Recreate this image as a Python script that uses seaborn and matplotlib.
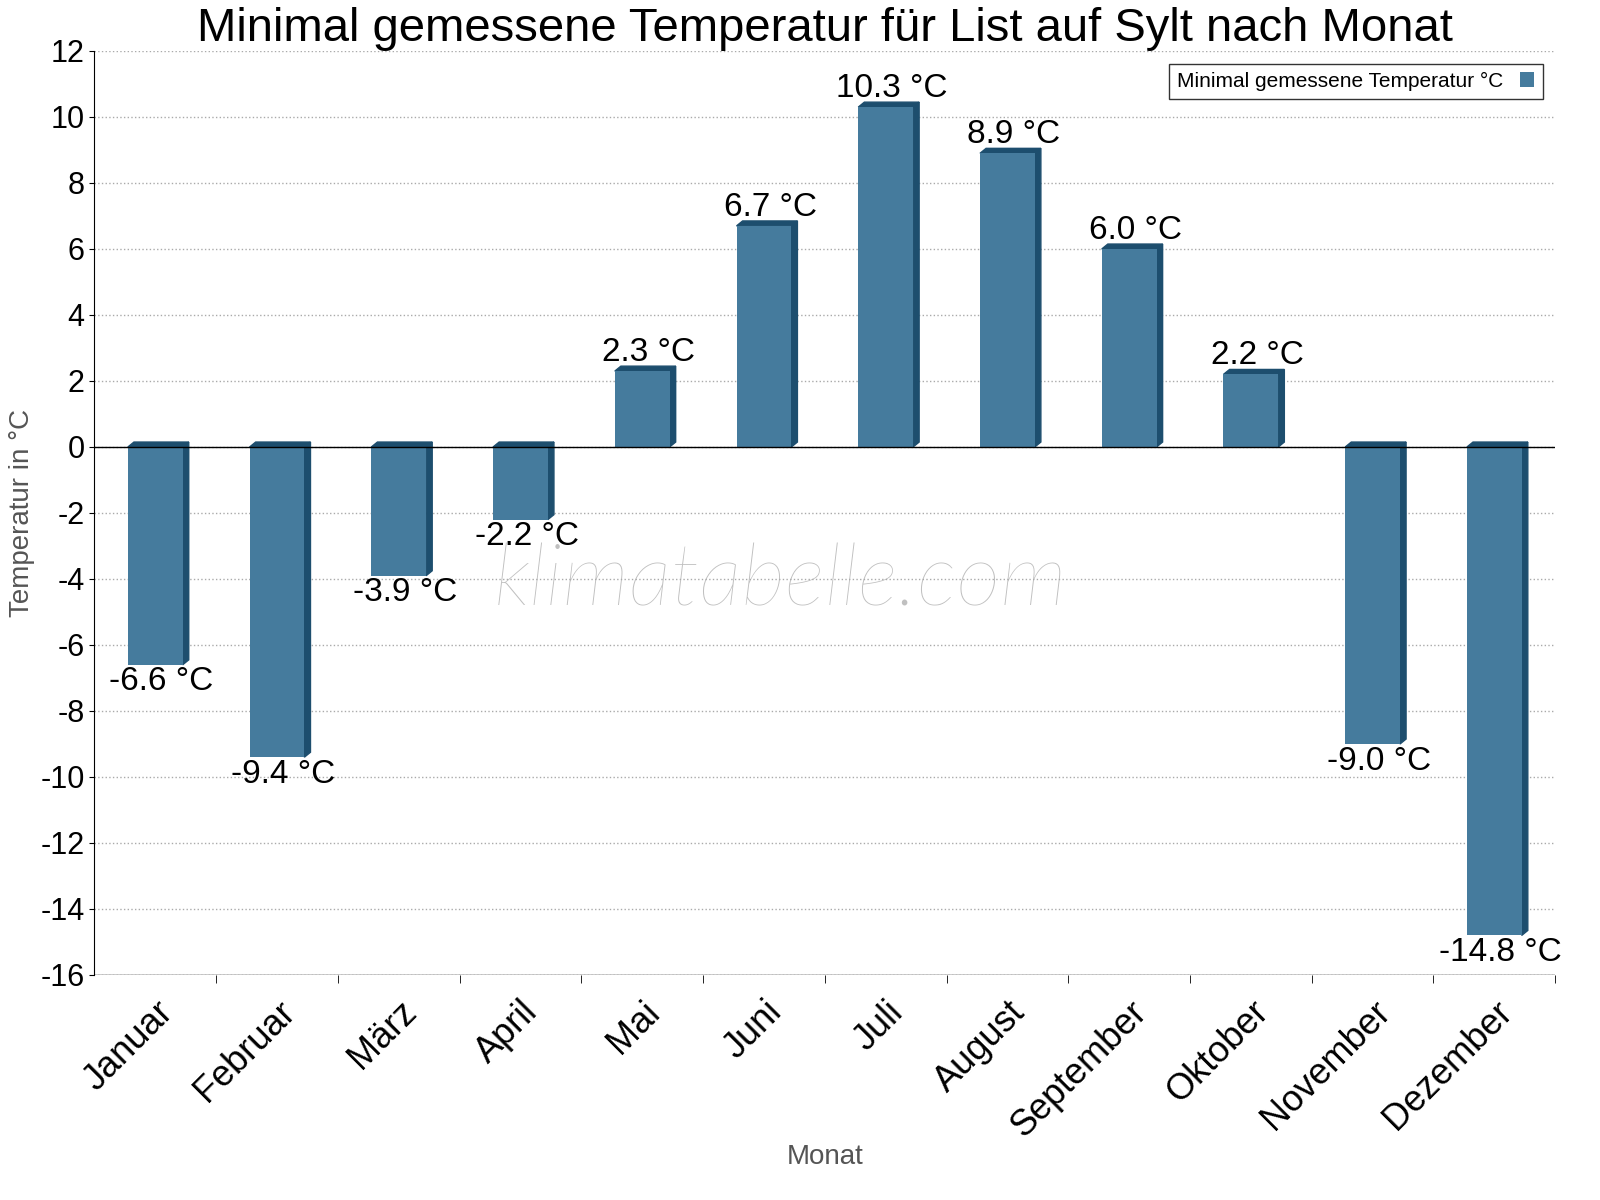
import matplotlib
matplotlib.use("Agg")
import matplotlib.pyplot as plt
import matplotlib.transforms as mtrans
import seaborn as sns
import pandas as pd
from matplotlib.patches import Polygon

plt.rcParams["font.family"] = "Liberation Sans"

months = ["Januar", "Februar", "März", "April", "Mai", "Juni", "Juli",
          "August", "September", "Oktober", "November", "Dezember"]
values = [-6.6, -9.4, -3.9, -2.2, 2.3, 6.7, 10.3, 8.9, 6.0, 2.2, -9.0, -14.8]
yticks = list(range(-16, 13, 2))

df = pd.DataFrame({"Monat": months, "T": values})
fig = plt.figure(figsize=(16, 12), dpi=100)
ax = fig.add_axes([0.059, 0.1875, 0.913, 0.77])
sns.barplot(data=df, x="Monat", y="T", color="#457b9d", saturation=1, width=0.45,
            ax=ax, label="Minimal gemessene Temperatur °C", zorder=3)

dx, dy = 0.05, 0.15
for p in ax.patches:
    x0, w = p.get_x(), p.get_width()
    h = p.get_height()
    x1 = x0 + w
    top = max(h, 0)
    bot = min(h, 0)
    ax.add_patch(Polygon([(x1, bot), (x1 + dx, bot + dy), (x1 + dx, top + dy), (x1, top)],
                         closed=True, color="#1d4e6e", zorder=2.9))
    ax.add_patch(Polygon([(x0, top), (x0 + dx, top + dy), (x1 + dx, top + dy), (x1, top)],
                         closed=True, color="#1d4e6e", zorder=2.9))
    cx = x0 + w / 2 + 0.05
    if h >= 0:
        ax.text(cx, h + 0.1, f"{h:.1f} °C", ha="center", va="bottom", fontsize=24, zorder=5)
    else:
        ax.text(cx, h - 0.05, f"{h:.1f} °C", ha="center", va="top", fontsize=24, zorder=5)

ax.set_xlim(-0.5, 11.5)
ax.set_ylim(-16, 12)
ax.set_yticks(yticks)
ax.set_yticklabels([str(t) for t in yticks], fontsize=22)
ax.set_xticks(range(12))
ax.set_xticklabels(months, rotation=45, ha="right", rotation_mode="anchor", fontsize=26)
off = mtrans.ScaledTranslation(0.45, 0, fig.dpi_scale_trans)
for lbl in ax.get_xticklabels():
    lbl.set_transform(lbl.get_transform() + off)
ax.tick_params(axis="x", length=0, pad=14)
ax.set_xticks([i + 0.5 for i in range(12)], minor=True)
ax.tick_params(axis="x", which="minor", length=6)
ax.grid(axis="y", linestyle=":", color="#aaaaaa", linewidth=1, zorder=0)
ax.axhline(0, color="black", linewidth=1, zorder=4)
for s in ["top", "right", "bottom"]:
    ax.spines[s].set_visible(False)
ax.axhline(-16, color="black", linewidth=1)
ax.set_xlabel("Monat", fontsize=20, color="#555555", labelpad=0)
ax.set_ylabel("Temperatur in °C", fontsize=20, color="#555555")
ax.set_title("Minimal gemessene Temperatur für List auf Sylt nach Monat", fontsize=34, pad=6)
ax.text(0.47, 0.425, "klimatabelle.com", transform=ax.transAxes, fontsize=62,
        style="italic", color="#c0c0c0", ha="center", va="center", zorder=1,
        family="Lato", fontweight="light")
leg = ax.legend(loc="upper right", fontsize=15, fancybox=False, edgecolor="black",
                markerfirst=False, handlelength=0.7, borderaxespad=0.6)
leg.get_frame().set_linewidth(1)
fig.savefig("out.png", dpi=100)
